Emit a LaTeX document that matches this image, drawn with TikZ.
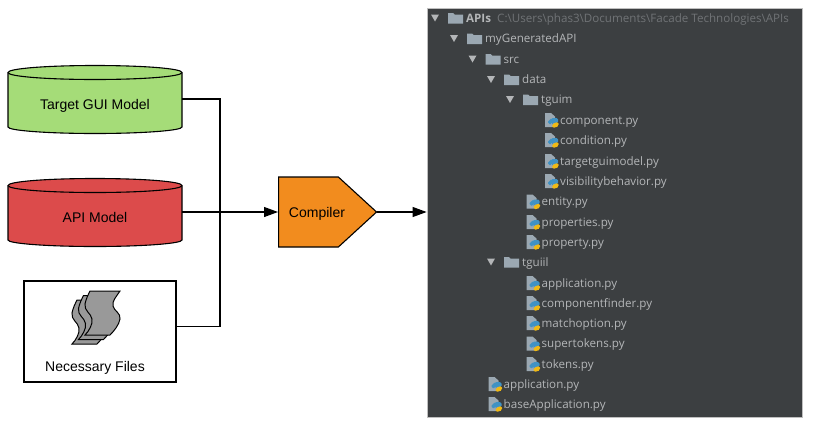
\documentclass[tikz,border=0pt]{standalone}
\usepackage{fontspec}
\setmainfont{Liberation Sans}
\newfontfamily\treefont{Open Sans}
\usepackage{xcolor}
\usetikzlibrary{positioning,arrows.meta,calc,shapes.symbols}
\definecolor{modelgreen}{RGB}{165,220,120}
\definecolor{modelred}{RGB}{220,75,75}
\definecolor{compilerorange}{RGB}{242,140,30}
\definecolor{treebg}{RGB}{60,63,65}
\definecolor{treetxt}{RGB}{180,182,184}
\definecolor{treepath}{RGB}{112,115,118}
\definecolor{foldergray}{RGB}{155,168,178}
\definecolor{pyblue}{RGB}{64,146,196}
\definecolor{pyyellow}{RGB}{240,185,20}
\begin{document}
\begin{tikzpicture}[
  x=1pt, y=-1pt,
  font=\fontsize{14}{16}\selectfont,
  model/.style={minimum width=174pt, minimum height=66pt, inner sep=0pt},
  filebox/.style={draw=black, line width=1.1pt, fill=white, minimum width=152pt, minimum height=101pt},
  comp/.style={signal, signal to=east, signal pointer angle=85, draw=black, line width=1.1pt, fill=compilerorange, minimum height=70pt, minimum width=98pt, inner sep=0pt},
  line/.style={black, line width=1.1pt},
  arr/.style={-{Stealth[length=14pt,width=10pt,inset=0pt]}, black, line width=1.1pt},
  rowtxt/.style={font=\treefont\fontsize{11.6}{14}\selectfont, text=treetxt, anchor=base west, inner sep=0pt},
  drum/.pic={
    \path[draw=black, line width=1.1pt, pic actions] (-87,-26.5) -- (-87,28) .. controls (-87,31.5) and (-48,34.5) .. (0,34.5) .. controls (48,34.5) and (87,31.5) .. (87,28) -- (87,-26.5) .. controls (87,-30.5) and (48,-33.5) .. (0,-33.5) .. controls (-48,-33.5) and (-87,-30.5) .. (-87,-26.5) -- cycle;
    \draw[black, line width=1.1pt] (-87,-26.5) .. controls (-87,-22.5) and (-48,-19.5) .. (0,-19.5) .. controls (48,-19.5) and (87,-22.5) .. (87,-26.5);
  },
  folder/.pic={
    \fill[foldergray] (0,-5) -- (5,-5) -- (6.5,-3.5) -- (15,-3.5) -- (15,5.5) -- (0,5.5) -- cycle;
  },
  fold/.pic={
    \fill[treetxt] (-4,-3.5) -- (4,-3.5) -- (0,3.5) -- cycle;
  },
  pyfile/.pic={
    \fill[foldergray] (0,-7) -- (6,-7) -- (10,-3.5) -- (10,7) -- (0,7) -- cycle;
    \fill[pyblue, rounded corners=1.5pt] (3,4) -- (3,0) -- (6,0) -- (6,-2) -- (13,-2) -- (13,3) -- (7,3) -- (7,4) -- cycle;
    \fill[pyyellow, rounded corners=1.5pt] (7,7.5) -- (7,5) -- (9,3) -- (13.5,2) -- (13.5,6) -- (11,7.5) -- cycle;
  },
  page/.pic={
    \draw[black, line width=1pt, fill=black!40] (0,0) -- (30,0) .. controls (26,6) and (22,10) .. (23,15) .. controls (24,20) and (31,22) .. (30,28) .. controls (29,34) and (24,40) .. (20,44) -- (-5,44) .. controls (-1,40) and (3,33) .. (2,28) .. controls (1,22) and (-6,20) .. (-5,13) .. controls (-4,8) and (-2,4) .. (0,0) -- cycle;
  },
]
\useasboundingbox (0,0) rectangle (816,424);
% ---- input models ----
\pic[fill=modelgreen] at (95,99) {drum};
\pic[fill=modelred] at (95,212) {drum};
\node[model] (target) at (95,99) {};
\node[model] (api) at (95,212) {};
\node at (95,105.5) (targetlab) {Target GUI Model};
\node at (95,217) (apilab) {API Model};
% ---- necessary files ----
\node[filebox] (files) at (100,331.5) {};
\pic at (77,300) {page};
\pic at (83.5,295.5) {page};
\pic at (90,291) {page};
\node (fileslab) at (95,367.5) {Necessary Files};
% ---- compiler ----
\node[comp, anchor=west] (compiler) at (278,212) {};
\node (compilerlab) at (317,214) {Compiler};
% ---- output tree ----
\node[draw=black!25, line width=0.8pt, fill=treebg, minimum width=375pt, minimum height=409pt, inner sep=0pt] (tree) at (614.5,212.5) {};
\coordinate (bus) at (220,212);
% ---- arrows ----
\draw[line] (target.east) -| (bus);
\draw[line] ($(files.north east)!0.45!(files.south east)$) -| (bus);
\draw[arr] (api.east) -- (compiler.west);
\draw[arr] (compiler.east) -- (compiler.east -| tree.west);
% ---- folders ----
\node[rowtxt, font=\treefont\bfseries\fontsize{11.6}{14}\selectfont] (apis) at (466,22) {APIs};
\node[rowtxt, text=treepath] (apispath) at (497,22) {C:\textbackslash Users\textbackslash phas3\textbackslash Documents\textbackslash Facade Technologies\textbackslash APIs};
\pic at (435,18) {fold};
\pic at (448,18) {folder};
\foreach \rowy/\rowx/\rowname in {38.5/485/myGeneratedAPI, 59/503.5/src, 79.5/522/data, 99.5/541/tguim, 262/522/tguiil}{
  \pic at ($(\rowx-31,\rowy)$) {fold};
  \pic at ($(\rowx-18,\rowy)$) {folder};
  \node[rowtxt] (dir-\rowname) at (\rowx,\rowy+4) {\rowname};
}
% ---- python files ----
\foreach \rowy/\rowx/\rowname in {120/560/component, 140/560/condition, 161/560/targetguimodel, 181/560/visibilitybehavior, 201.5/541.5/entity, 222/541.5/properties, 242/541.5/property, 283/541.5/application, 303/541.5/componentfinder, 323/541.5/matchoption, 343.5/541.5/supertokens, 364/541.5/tokens, 384/503.5/application, 404/503.5/baseApplication}{
  \pic at ($(\rowx-15,\rowy)$) {pyfile};
  \node[rowtxt] at (\rowx,\rowy+4) {\rowname.py};
}
\end{tikzpicture}
\end{document}
